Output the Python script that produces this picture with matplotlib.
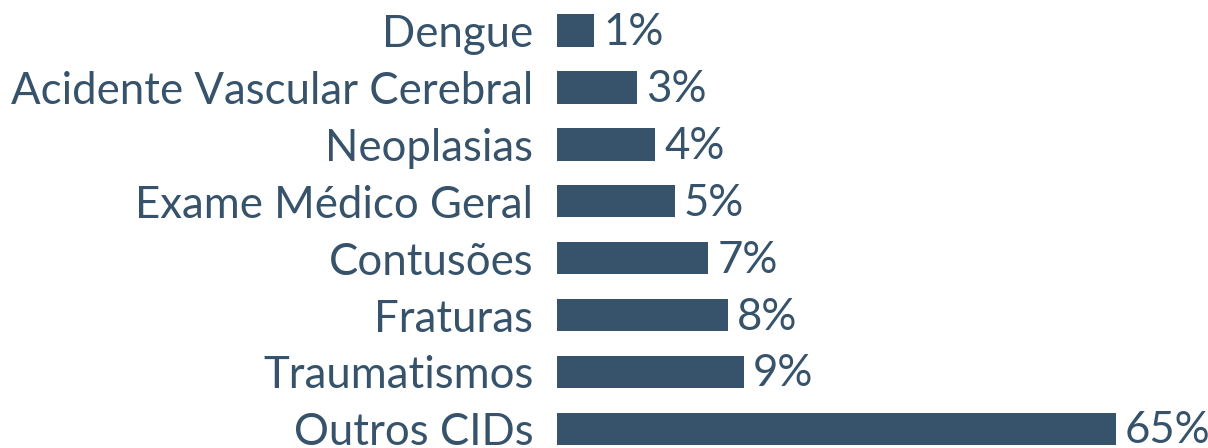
import matplotlib
matplotlib.use("Agg")
import matplotlib.pyplot as plt

# data (top to bottom)
causes = ["Dengue", "Acidente Vascular Cerebral", "Neoplasias", "Exame Médico Geral",
          "Contusões", "Fraturas", "Traumatismos", "Outros CIDs"]
pct_labels = ["1%", "3%", "4%", "5%", "7%", "8%", "9%", "65%"]
# bar lengths as drawn in the reference (the original is not to scale with the labels)
bar_len = [4.3, 9.3, 11.4, 13.7, 17.6, 19.9, 21.7, 65]

color = "#36536b"
plt.rcParams["font.family"] = ["Lato", "DejaVu Sans"]

fig = plt.figure(figsize=(12.08, 4.48), dpi=100)
ax = fig.add_axes([557 / 1208, 0, 651 / 1208, 1])

y = list(range(len(causes)))
ax.barh(y, bar_len, height=0.57, color=color)
ax.set_xlim(0, 65 * 651 / 559)
ax.set_ylim(7.337, -0.536)

fs = 31.5
ax.set_yticks(y)
ax.set_yticklabels(causes, fontsize=fs, color=color)
ax.tick_params(axis="y", length=0, pad=17)
ax.set_xticks([])
for s in ax.spines.values():
    s.set_visible(False)

for yi, v, lab in zip(y, bar_len, pct_labels):
    ax.annotate(lab, (v, yi), xytext=(9, -2), textcoords="offset pixels",
                ha="left", va="center", fontsize=fs, color=color)

fig.savefig("out.png", dpi=100)
plt.close()
